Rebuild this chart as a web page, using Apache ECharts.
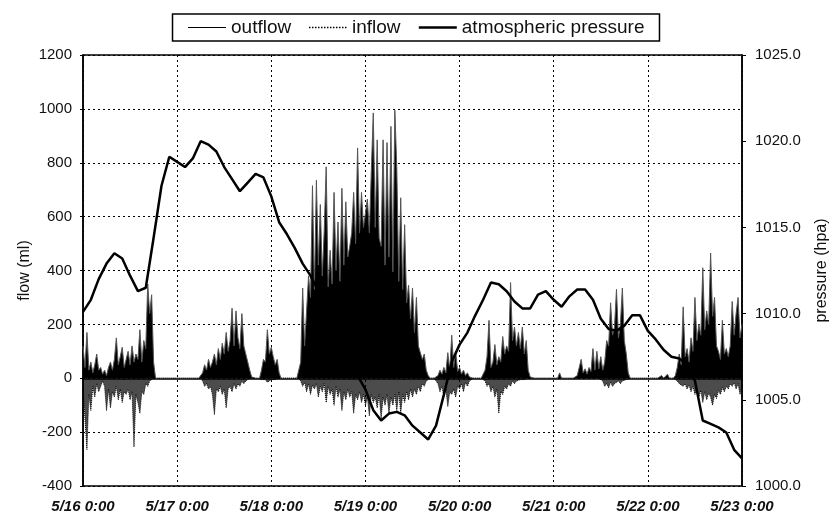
<!DOCTYPE html>
<html>
<head>
<meta charset="utf-8">
<script src="https://cdn.jsdelivr.net/npm/echarts@6/dist/echarts.min.js"></script>
<style>
html,body{margin:0;padding:0;background:#fff;}
#chart{width:832px;height:517px;}
</style>
</head>
<body>
<div id="chart"></div>
<script>
// x tick labels (one per day)
const xTickLabels = ['5/16 0:00','5/17 0:00','5/18 0:00','5/19 0:00','5/20 0:00','5/21 0:00','5/22 0:00','5/23 0:00'];

// outflow (ml), one value every 30 minutes from 5/16 0:00
const outflow = [
120,40,170,30,60,20,50,90,30,40,
15,30,10,40,60,30,70,150,50,80,
115,40,70,100,50,120,60,90,70,180,
60,140,110,350,240,310,60,0,0,0,
0,0,3,0,0,0,0,0,0,0,
0,0,0,0,2,0,0,0,0,0,
0,20,50,30,70,40,60,90,50,110,
70,130,90,170,100,140,260,120,250,150,
110,240,120,90,60,30,5,0,0,0,
0,30,70,60,180,90,115,80,50,70,
20,0,0,0,0,0,0,0,0,0,
5,60,335,120,250,380,300,715,330,735,
420,645,380,550,785,340,475,350,690,400,
580,360,705,420,655,450,490,540,690,500,
855,540,690,560,560,665,540,770,985,560,
885,520,490,885,420,875,450,935,395,995,
780,360,670,330,570,280,345,220,335,170,
300,120,115,70,90,30,10,0,0,0,
0,10,30,15,40,20,95,30,160,40,
100,25,40,15,30,10,20,5,10,0,
0,0,0,0,5,30,80,215,40,60,
125,50,80,60,155,90,120,100,355,140,
190,120,170,110,190,90,140,30,5,0,
0,0,0,0,0,0,0,0,0,0,
0,0,0,20,0,0,0,0,0,0,
0,0,10,40,70,20,35,15,40,25,
110,30,100,35,80,30,60,140,120,280,
160,190,330,150,200,335,140,90,20,0,
0,0,0,0,0,0,0,0,0,0,
0,0,0,0,0,10,0,0,15,0,
0,0,10,40,90,50,265,80,110,60,
150,100,300,140,200,160,410,180,250,200,
465,230,300,120,100,70,215,90,110,80,
120,285,160,240,300,150,200
];

// inflow (ml), one value every 30 minutes from 5/16 0:00
const inflow = [
-40,-150,-265,-60,-120,-30,-70,-20,-50,-30,
-10,-30,-120,-40,-110,-50,-70,-30,-80,-40,
-90,-50,-60,-40,-80,-50,-255,-60,-90,-130,
-50,-60,-20,-30,-10,-5,0,0,0,0,
0,0,0,0,0,0,0,0,0,0,
0,0,0,0,0,0,0,0,0,0,
0,-10,-30,-20,-40,-30,-60,-135,-40,-50,
-30,-60,-40,-110,-40,-30,-50,-20,-40,-20,
-30,-10,-20,-10,-5,0,0,0,0,0,
0,-5,-10,-5,-15,-10,-5,-10,-5,0,
0,0,0,0,0,0,0,0,0,0,
0,-10,-30,-15,-50,-20,-60,-25,-40,-20,
-70,-30,-50,-20,-90,-30,-60,-40,-100,-30,
-70,-40,-120,-50,-80,-40,-70,-50,-130,-60,
-80,-50,-90,-60,-100,-70,-140,-60,-90,-70,
-110,-60,-150,-70,-100,-60,-130,-70,-100,-60,
-120,-50,-130,-60,-90,-50,-80,-40,-70,-40,
-60,-30,-50,-20,-30,-10,-5,0,0,0,
-5,-20,-50,-30,-70,-40,-105,-50,-60,-40,
-70,-30,-40,-20,-50,-15,-30,-10,-5,0,
0,0,0,0,0,-10,-30,-20,-50,-30,
-70,-40,-130,-50,-60,-30,-40,-20,-30,-10,
-20,-10,-15,-5,-10,-5,-5,0,0,0,
0,0,0,0,0,0,0,0,0,0,
0,0,0,0,0,0,0,0,0,0,
0,0,0,0,0,0,0,0,0,0,
0,0,0,0,0,-10,-30,-20,-35,-15,
-30,-20,-25,-10,-20,-10,-15,-5,0,0,
0,0,0,0,0,0,0,0,0,0,
0,0,0,0,0,0,0,0,0,0,
0,0,0,-10,-20,-15,-30,-20,-40,-25,
-50,-30,-60,-40,-70,-45,-90,-50,-80,-55,
-70,-100,-60,-75,-45,-60,-35,-50,-30,-40,
-20,-30,-15,-40,-20,-60,-25
];

// atmospheric pressure (hPa), one value every 2 hours from 5/16 0:00
const pressure = [
1010.1,1010.8,1012.0,1012.9,1013.5,1013.2,1012.2,1011.3,1011.5,1014.4,
1017.4,1019.1,1018.8,1018.5,1019.0,1020.0,1019.8,1019.4,1018.5,1017.8,
1017.1,1017.6,1018.1,1017.9,1016.8,1015.3,1014.6,1013.8,1012.9,1012.2,
1011.3,1010.3,1009.3,1008.4,1007.4,1006.4,1005.6,1004.4,1003.8,1004.2,
1004.3,1004.1,1003.5,1003.1,1002.7,1003.5,1005.3,1007.2,1008.2,1008.9,
1009.9,1010.8,1011.8,1011.7,1011.3,1010.7,1010.3,1010.3,1011.1,1011.3,
1010.8,1010.4,1011.0,1011.4,1011.4,1010.8,1009.7,1009.1,1009.0,1009.3,
1009.9,1009.9,1009.0,1008.5,1007.9,1007.5,1007.4,1007.0,1006.1,1003.8,
1003.6,1003.4,1003.1,1002.1,1001.6
];

const FLOW_STEP_H = 0.5;
const PRES_STEP_H = 2;

const outData = outflow.map((v, i) => [i * FLOW_STEP_H, v]);
const inData = inflow.map((v, i) => [i * FLOW_STEP_H, v]);
const presData = pressure.map((v, i) => [i * PRES_STEP_H, v]);

const FONT = "'Liberation Sans', Arial, sans-serif";
const gridLine = { show: true, lineStyle: { color: '#000', width: 1, type: [2, 3] } };

const chart = echarts.init(document.getElementById('chart'), null, { renderer: 'canvas' });
chart.setOption({
  animation: false,
  backgroundColor: '#fff',
  textStyle: { fontFamily: FONT, color: '#111' },
  legend: {
    top: 14,
    left: 'center',
    itemWidth: 38,
    itemHeight: 14,
    itemGap: 17,
    padding: [4, 15],
    borderColor: '#000',
    borderWidth: 1.5,
    itemStyle: { opacity: 0, color: 'transparent', borderColor: 'transparent', borderWidth: 0 },
    textStyle: { fontSize: 19, fontFamily: FONT, color: '#111' },
    data: [
      { name: 'outflow', lineStyle: { color: '#000', width: 1, type: 'solid' } },
      { name: 'inflow', lineStyle: { color: '#000', width: 1.5, type: 'dotted' } },
      { name: 'atmospheric pressure', lineStyle: { color: '#000', width: 2.5, type: 'solid' } }
    ]
  },
  grid: {
    left: 83, right: 90, top: 55, bottom: 31,
    containLabel: false,
    outerBoundsMode: 'none',
    show: true, borderColor: '#000', borderWidth: 1.5, backgroundColor: 'transparent'
  },
  xAxis: {
    type: 'value',
    min: 0, max: 168, interval: 24,
    axisLine: { show: true, lineStyle: { color: '#000', width: 1.5 } },
    axisTick: { show: false },
    splitLine: gridLine,
    axisLabel: {
      margin: 13,
      fontSize: 15,
      fontStyle: 'italic',
      fontWeight: 'bold',
      color: '#111',
      formatter: v => xTickLabels[Math.round(v / 24)] || ''
    }
  },
  yAxis: [
    {
      type: 'value',
      min: -400, max: 1200, interval: 200,
      position: 'left',
      name: 'flow (ml)',
      nameLocation: 'middle',
      nameRotate: 90,
      nameGap: 50,
      nameMoveOverlap: false,
      nameTextStyle: { fontSize: 16, color: '#111' },
      axisLine: { show: true, lineStyle: { color: '#000', width: 1.5 } },
      axisTick: { show: true, length: 3, lineStyle: { color: '#000' } },
      splitLine: gridLine,
      axisLabel: { margin: 11, fontSize: 15, color: '#111', formatter: v => String(v) }
    },
    {
      type: 'value',
      min: 1000, max: 1025, interval: 5,
      position: 'right',
      name: 'pressure (hpa)',
      nameLocation: 'middle',
      nameRotate: 90,
      nameGap: 72,
      nameMoveOverlap: false,
      nameTextStyle: { fontSize: 16, color: '#111' },
      axisLine: { show: true, lineStyle: { color: '#000', width: 1.5 } },
      axisTick: { show: true, length: 4, lineStyle: { color: '#000' } },
      splitLine: { show: false },
      axisLabel: { margin: 13, fontSize: 15, color: '#111', formatter: v => v.toFixed(1) }
    }
  ],
  series: [
    {
      name: 'outflow',
      type: 'line',
      data: outData,
      symbol: 'none',
      showSymbol: false,
      lineStyle: { color: '#555', width: 1 },
      itemStyle: { color: '#333' },
      areaStyle: { color: '#000', opacity: 1 },
      z: 2
    },
    {
      name: 'inflow',
      type: 'line',
      data: inData,
      symbol: 'none',
      showSymbol: false,
      lineStyle: { color: '#000', width: 1, type: 'dotted' },
      itemStyle: { color: '#222' },
      areaStyle: { color: '#000', opacity: 0.7 },
      z: 2
    },
    {
      name: 'atmospheric pressure',
      type: 'line',
      yAxisIndex: 1,
      data: presData,
      symbol: 'none',
      showSymbol: false,
      lineStyle: { color: '#000', width: 2.5 },
      itemStyle: { color: '#000' },
      z: 3
    }
  ]
});
</script>
</body>
</html>
